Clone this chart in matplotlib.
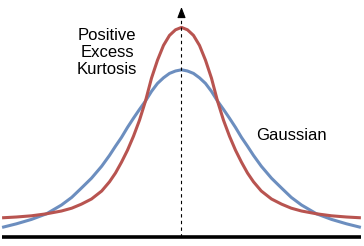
import numpy as np
import matplotlib
matplotlib.use("Agg")
import matplotlib.pyplot as plt

# curve values (x in sd-ish units, y = height)
x_vals = [-2.99, -2.75, -2.5, -2.25, -2.0, -1.83, -1.67, -1.5, -1.33, -1.2, -1.1,
          -1.0, -0.9, -0.8, -0.7, -0.6, -0.5, -0.4, -0.3, -0.2, -0.1, 0.0,
          0.1, 0.2, 0.3, 0.4, 0.5, 0.6, 0.7, 0.8, 0.9, 1.0,
          1.1, 1.2, 1.33, 1.5, 1.67, 1.83, 2.0, 2.25, 2.5, 2.75, 2.99]
gaussian = [0.025, 0.034, 0.045, 0.059, 0.081, 0.100, 0.123, 0.148, 0.178, 0.205, 0.228,
            0.250, 0.275, 0.298, 0.320, 0.341, 0.365, 0.385, 0.399, 0.410, 0.416, 0.419,
            0.416, 0.410, 0.399, 0.385, 0.365, 0.341, 0.320, 0.298, 0.275, 0.250,
            0.228, 0.205, 0.178, 0.148, 0.123, 0.100, 0.081, 0.059, 0.045, 0.034, 0.025]
leptokurtic = [0.049, 0.051, 0.054, 0.059, 0.066, 0.073, 0.083, 0.096, 0.116, 0.139, 0.161,
               0.188, 0.218, 0.253, 0.293, 0.341, 0.398, 0.443, 0.480, 0.505, 0.519, 0.525,
               0.519, 0.505, 0.480, 0.443, 0.398, 0.341, 0.293, 0.253, 0.218, 0.188,
               0.161, 0.139, 0.116, 0.096, 0.083, 0.073, 0.066, 0.059, 0.054, 0.051, 0.049]

label_kurt = "Positive\nExcess\nKurtosis"
label_gauss = "Gaussian"

plt.rcParams["font.family"] = ["Liberation Sans", "DejaVu Sans"]

fig = plt.figure(figsize=(3.64, 2.46), dpi=100)
ax = fig.add_axes([0, 0, 1, 1])
ax.set_xlim(-3.025, 3.042)
ax.set_ylim(-0.0215, 0.5935)
ax.axis("off")

# baseline
ax.plot([x_vals[0], x_vals[-1]], [0, 0], color="black", lw=2.6, solid_capstyle="butt")

ax.plot(x_vals, gaussian, color="#6c8ebf", lw=2.2, solid_capstyle="butt", zorder=2)
ax.plot(x_vals, leptokurtic, color="#b85450", lw=2.2, solid_capstyle="butt", zorder=3)

# dashed axis with arrow head
ax.plot([0, 0], [0, 0.555], color="black", lw=0.8, linestyle=(0, (3, 3)), zorder=4)
ax.annotate("", xy=(0, 0.576), xytext=(0, 0.552),
            arrowprops=dict(arrowstyle="-|>,head_length=0.65,head_width=0.25",
                            color="black", lw=0.8, shrinkA=0, shrinkB=0),
            zorder=5)

ax.text(-1.242, 0.462, label_kurt, ha="center", va="center", fontsize=12, linespacing=1.2)
ax.text(1.825, 0.254, label_gauss, ha="center", va="center", fontsize=12)

fig.savefig("out.png", dpi=100)
